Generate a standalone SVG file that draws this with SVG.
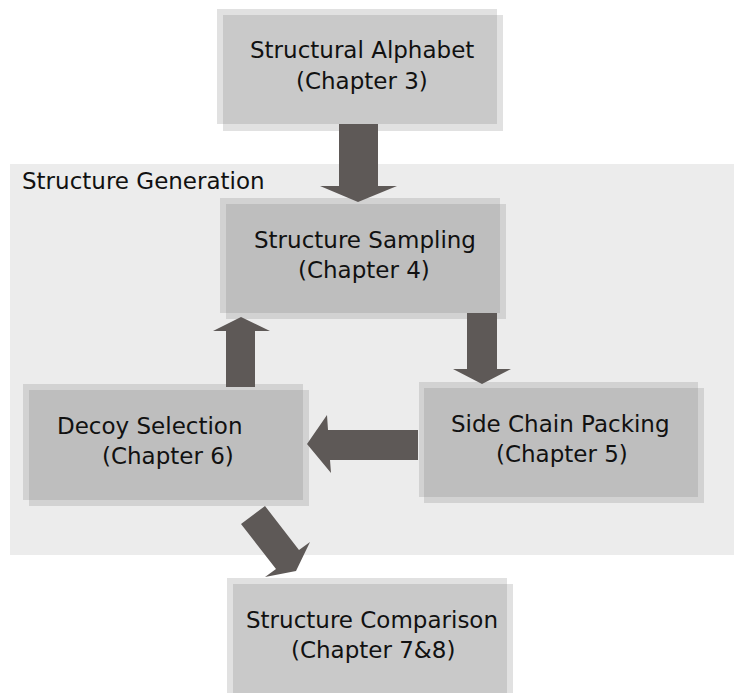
<svg xmlns="http://www.w3.org/2000/svg" width="735" height="693" viewBox="0 0 735 693">
<style>
.bx{fill:#777777;fill-opacity:0.22;}
.t{font-family:"DejaVu Sans","Noto Sans",sans-serif;font-size:23px;fill:#111111;}
.ar{fill:#5e5957;}
</style>
<rect x="0" y="0" width="735" height="693" fill="#ffffff"/>
<g id="group-structure-generation">
<rect x="10" y="164" width="724" height="391" fill="#ececec"/>
<text class="t" x="22" y="189">Structure Generation</text>
</g>
<g id="node-alphabet">
<rect class="bx" x="217" y="9" width="280" height="115"/>
<rect class="bx" x="223" y="15" width="280" height="116"/>
<text class="t" x="250" y="58">Structural Alphabet</text>
<text class="t" x="296" y="89">(Chapter 3)</text>
</g>
<g id="node-sampling">
<rect class="bx" x="220" y="198" width="280" height="115"/>
<rect class="bx" x="226" y="204" width="280" height="115"/>
<text class="t" x="254" y="248">Structure Sampling</text>
<text class="t" x="298" y="278">(Chapter 4)</text>
</g>
<g id="node-decoy">
<rect class="bx" x="23" y="384" width="280" height="116"/>
<rect class="bx" x="29" y="390" width="280" height="116"/>
<text class="t" x="57" y="434">Decoy Selection</text>
<text class="t" x="102" y="464">(Chapter 6)</text>
</g>
<g id="node-sidechain">
<rect class="bx" x="419" y="382" width="279" height="115"/>
<rect class="bx" x="424" y="388" width="280" height="115"/>
<text class="t" x="451" y="432">Side Chain Packing</text>
<text class="t" x="496" y="462">(Chapter 5)</text>
</g>
<g id="node-comparison">
<rect class="bx" x="227" y="578" width="280" height="115"/>
<rect class="bx" x="233" y="584" width="280" height="115"/>
<text class="t" x="246" y="628">Structure Comparison</text>
<text class="t" x="291" y="658">(Chapter 7&amp;8)</text>
</g>
<g id="connectors">
<polygon class="ar" points="339,124 378,124 378,186 397,186 358,202 320,186 339,186"/>
<polygon class="ar" points="467,313 497,313 497,369 511,369 482,384 453,369 467,369"/>
<polygon class="ar" points="418,430 418,460 330,460 331,473 307,444 327,415 328,430"/>
<polygon class="ar" points="226,387 255,387 255,331 270,331 241,317 213,331 226,331"/>
<polygon class="ar" points="241,524 265,506 299,550 310,542 296,571 265,577 276,569"/>
</g>
</svg>
